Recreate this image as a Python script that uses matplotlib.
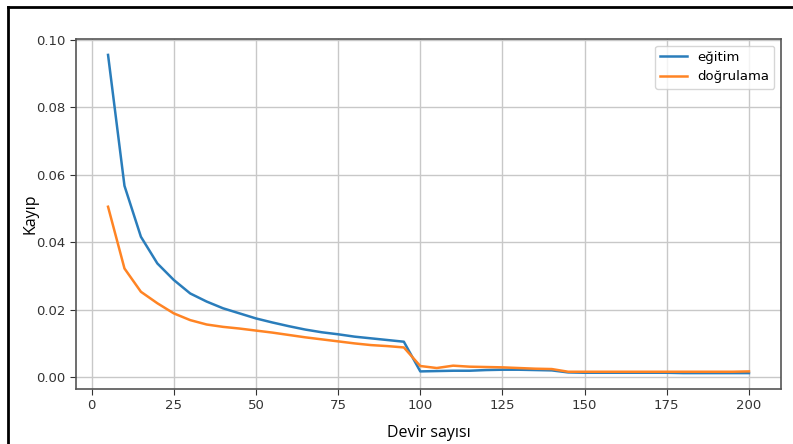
import matplotlib
matplotlib.use("Agg")
import matplotlib.pyplot as plt
from matplotlib.lines import Line2D

epochs = list(range(5, 201, 5))
train_loss = [0.0955, 0.0567, 0.0416, 0.0337, 0.0288, 0.0248, 0.0224, 0.0204, 0.0189, 0.0174,
              0.0162, 0.0151, 0.0141, 0.0133, 0.0127, 0.0120, 0.0115, 0.0110, 0.0105, 0.0017,
              0.0018, 0.0019, 0.0019, 0.0021, 0.0022, 0.0022, 0.0021, 0.0020, 0.0014, 0.0013,
              0.0013, 0.0013, 0.0013, 0.0013, 0.0013, 0.0012, 0.0012, 0.0012, 0.0012, 0.0012]
val_loss = [0.0505, 0.0322, 0.0253, 0.0219, 0.0189, 0.0169, 0.0156, 0.0149, 0.0144, 0.0138,
            0.0132, 0.0125, 0.0118, 0.0112, 0.0106, 0.0100, 0.0095, 0.0092, 0.0088, 0.0033,
            0.0027, 0.0034, 0.0031, 0.0030, 0.0029, 0.0027, 0.0025, 0.0024, 0.0016, 0.0016,
            0.0016, 0.0016, 0.0016, 0.0016, 0.0016, 0.0016, 0.0016, 0.0016, 0.0016, 0.0017]

fig = plt.figure(figsize=(7.93, 4.44), dpi=100)
ax = fig.add_axes([76/793, 1-389/444, (781-76)/793, (389-39)/444])

ax.plot(epochs, train_loss, color="#2a7dbb", lw=1.8, label="eğitim")
ax.plot(epochs, val_loss, color="#ff8424", lw=1.8, label="doğrulama")

ax.grid(True, color="#c8c8c8", lw=1.0)
ax.set_yticks([0.0, 0.02, 0.04, 0.06, 0.08, 0.10])
ax.set_yticklabels(["0.00", "0.02", "0.04", "0.06", "0.08", "0.10"])
ax.set_xticks([0, 25, 50, 75, 100, 125, 150, 175, 200])
ax.tick_params(labelsize=9.5, colors="#333333", length=4)
for s in ax.spines.values():
    s.set_color("#555555")
    s.set_linewidth(1.2)

ax.set_xlabel("Devir sayısı", fontsize=11.5, family=["Open Sans", "DejaVu Sans"], labelpad=9)
ax.set_ylabel("Kayıp", fontsize=11.5, family=["Open Sans", "DejaVu Sans"], labelpad=-2)
ax.legend(loc="upper right", fontsize=9.5, framealpha=0.8)

fig.add_artist(Line2D([8/793, 8/793], [0, 1-7/444], transform=fig.transFigure, color="black", lw=2))
fig.add_artist(Line2D([8/793, 1], [1-7/444, 1-7/444], transform=fig.transFigure, color="black", lw=2))

fig.savefig("out.png", dpi=100)
